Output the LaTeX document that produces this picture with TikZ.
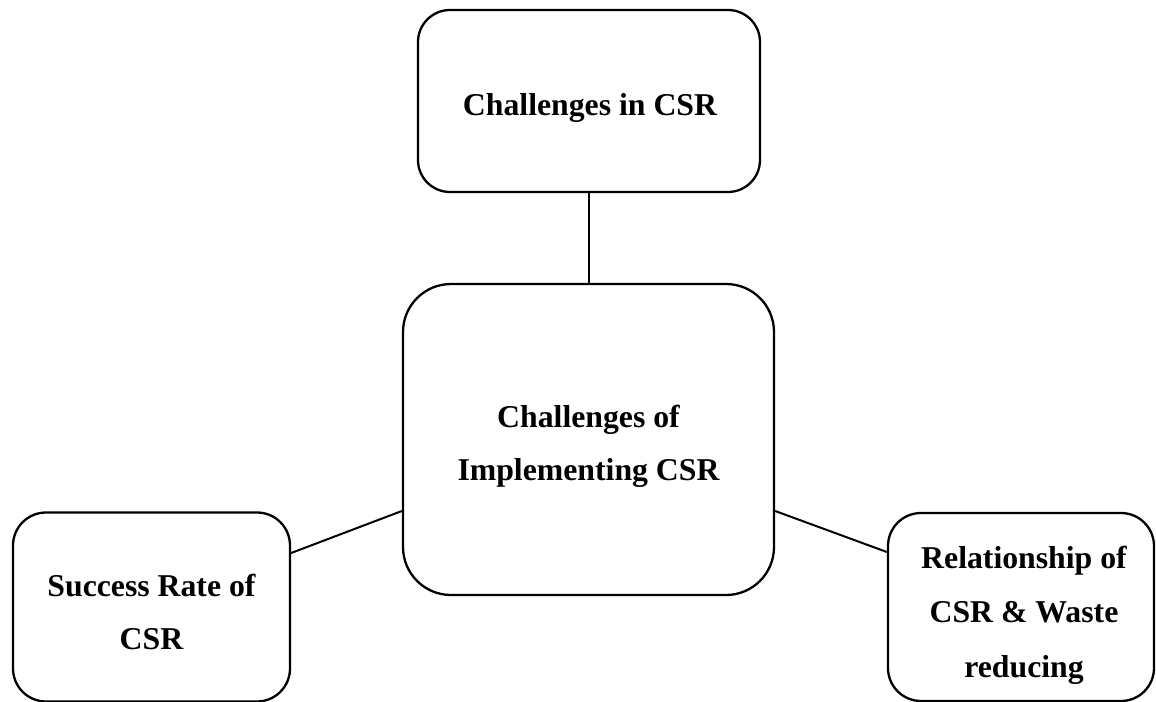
\documentclass[tikz,border=0pt]{standalone}
\usepackage{fontspec}
\setmainfont{Liberation Serif}
\begin{document}
\begin{tikzpicture}[x=1bp,y=-1bp,
  box/.style={draw=black,line width=2.3bp,inner sep=0pt},
  txt/.style={inner sep=0pt,align=center,
    font=\bfseries\fontsize{31.75bp}{53bp}\selectfont},
  link/.style={draw=black,line width=2bp}]
\useasboundingbox (0,0) rectangle (1156,702);
\node[box,rounded corners=32bp,minimum width=342bp,minimum height=182bp] (T) at (589,101) {};
\node[box,rounded corners=48bp,minimum width=371bp,minimum height=311bp] (C) at (588.5,439.5) {};
\node[box,rounded corners=33bp,minimum width=277bp,minimum height=189bp] (L) at (151.5,607) {};
\node[box,rounded corners=33bp,minimum width=266bp,minimum height=188bp] (R) at (1021,607) {};
\node[txt] (Tt) at (590,108) {Challenges in CSR};
\node[txt] (Ct) at (588.5,446.5) {Challenges of\\Implementing CSR};
\node[txt] (Lt) at (151.5,612) {Success Rate of\\CSR};
\node[txt,font=\bfseries\fontsize{31.75bp}{54.5bp}\selectfont] (Rt) at (1024,615) {Relationship of\\CSR \& Waste\\reducing};
\draw[link] (T.south -| C.north) -- (C.north);
\draw[link] ([yshift=54bp]L.east) -- ([yshift=-71.5bp]C.west);
\draw[link] ([yshift=-71.5bp]C.east) -- ([yshift=55bp]R.west);
\end{tikzpicture}
\end{document}
